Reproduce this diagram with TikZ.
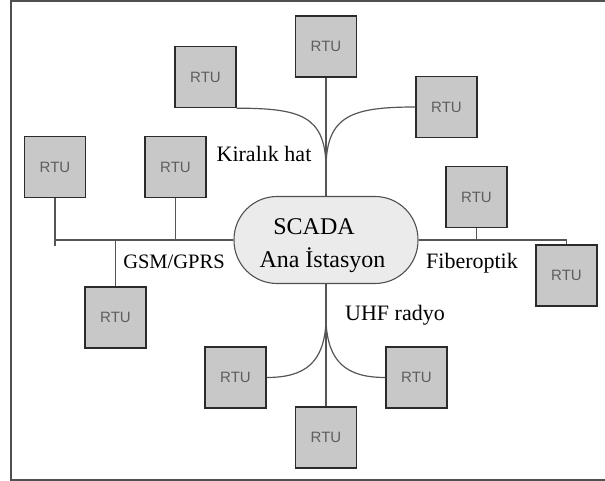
\documentclass[tikz,border=0pt]{standalone}
\usepackage{fontspec}
\setmainfont{Liberation Serif}
\newfontfamily\rtufont{Liberation Sans}
\definecolor{rtufill}{HTML}{C8C8C8}
\definecolor{rtuedge}{HTML}{2B2B2B}
\definecolor{rtutext}{HTML}{5E5E5E}
\definecolor{linkcol}{HTML}{555555}
\definecolor{hubfill}{HTML}{EBEBEB}
\definecolor{hubedge}{HTML}{505050}
\definecolor{framecol}{HTML}{505050}
\begin{document}
\begin{tikzpicture}[x=1pt,y=-1pt,
  rtu/.style={draw=rtuedge, fill=rtufill, line width=1.4pt,
    minimum width=61pt, minimum height=61pt, inner sep=0pt,
    font=\rtufont\fontsize{15}{15}\selectfont, text=rtutext},
  hub/.style={draw=hubedge, fill=hubfill, line width=1.1pt,
    minimum width=184pt, minimum height=87pt, rounded corners=43pt},
  link/.style={draw=linkcol, line width=1.2pt},
  lbl/.style={font=\rmfamily\fontsize{22}{22}\selectfont, anchor=base, inner sep=0pt},
  hubtext/.style={font=\rmfamily\fontsize{24}{24}\selectfont, anchor=base, inner sep=0pt},
  frame/.style={draw=framecol, line width=2.2pt}]
\useasboundingbox (0,0) rectangle (605,481);

% outer frame (open on the right)
\draw[frame] (605,1.1) -- (11.2,1.1) -- (11.2,479.6) -- (605,479.6);

% central station
\node[hub] (scada) at (326,240) {};
\node[hubtext] (t1) at (314,235) {SCADA};
\node[hubtext] (t2) at (322.5,267) {Ana İstasyon};

% remote units
\node[rtu] (T1) at (205.5,77) {RTU};
\node[rtu] (T2) at (326,46.5) {RTU};
\node[rtu] (T3) at (446.5,107) {RTU};
\node[rtu] (L1) at (55,167) {RTU};
\node[rtu] (L2) at (175.5,167) {RTU};
\node[rtu] (L3) at (115.5,317.5) {RTU};
\node[rtu] (R1) at (476.5,197) {RTU};
\node[rtu] (R2) at (566.5,275.5) {RTU};
\node[rtu] (B1) at (235.5,377.5) {RTU};
\node[rtu] (B2) at (416.5,377.5) {RTU};
\node[rtu] (B3) at (326,437.5) {RTU};

% leased line
\coordinate (kj) at (326,166);
\draw[link] (T2.south) -- (scada.north);
\draw[link] (T1.south east) .. controls +(64,0) and +(-1,-50) .. (kj);
\draw[link] (T3.west) .. controls +(-64,0) and +(1,-50) .. (kj);

% GSM/GPRS bus
\coordinate (l1end) at (55,246);
\draw[link] (scada.west) -- (L1.south |- scada.west);
\draw[link] (L1.south) -- (l1end);
\draw[link] (L2.south) -- (L2.south |- scada.west);
\draw[link] (L3.north) -- (L3.north |- scada.west);

% fibre optic bus
\draw[link] (scada.east) -- (scada.east -| R2.north) -- (R2.north);
\draw[link] (R1.south) -- (R1.south |- scada.east);

% UHF radio
\coordinate (uj) at (326,322);
\draw[link] (scada.south) -- (B3.north);
\draw[link] (B1.east) .. controls +(39,0) and +(-2,40) .. (uj);
\draw[link] (B2.west) .. controls +(-39,0) and +(2,40) .. (uj);

% medium labels
\node[lbl] (kh) at (264,162) {Kiralık hat};
\node[lbl, font=\rmfamily\fontsize{20.5}{20.5}\selectfont] (gsm) at (174,269) {GSM/GPRS};
\node[lbl] (fo) at (472,268) {Fiberoptik};
\node[lbl] (uhf) at (395,320) {UHF radyo};
\end{tikzpicture}
\end{document}
